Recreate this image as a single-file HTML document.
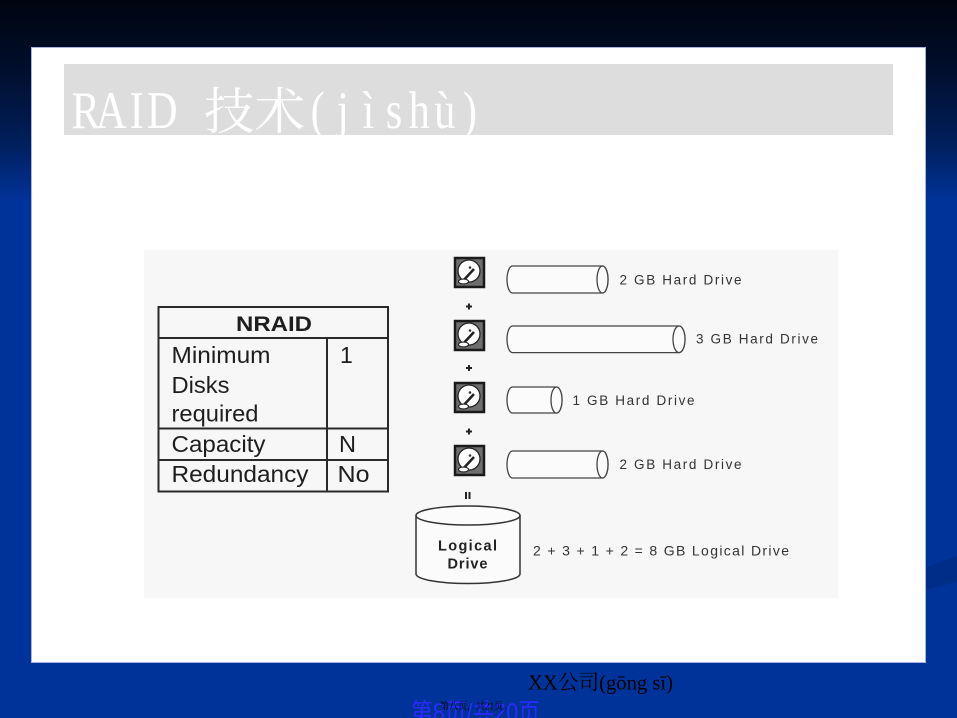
<!DOCTYPE html>
<html>
<head>
<meta charset="utf-8">
<style>
  html, body { margin: 0; padding: 0; width: 957px; height: 718px; overflow: hidden; background: #003399; }
  svg { display: block; }
  .sans { font-family: "Liberation Sans", "Noto Sans CJK SC", sans-serif; }
  .serif { font-family: "Liberation Serif", "Noto Serif CJK SC", serif; }
</style>
</head>
<body>
<svg width="957" height="718" viewBox="0 0 957 718" xmlns="http://www.w3.org/2000/svg">
  <defs>
    <linearGradient id="bg" x1="0" y1="0" x2="0" y2="1">
      <stop offset="0" stop-color="#00040f"/>
      <stop offset="0.10" stop-color="#000f2e"/>
      <stop offset="0.20" stop-color="#001f5c"/>
      <stop offset="0.28" stop-color="#003399"/>
      <stop offset="1" stop-color="#003399"/>
    </linearGradient>
  </defs>

  <!-- background -->
  <rect x="0" y="0" width="957" height="718" fill="url(#bg)"/>
  <polygon points="926,567 957,556 957,582 926,590" fill="#002d88"/>

  <!-- white panel -->
  <rect x="31.5" y="47.5" width="894" height="615" fill="#ffffff" stroke="#a8b4dc" stroke-width="1"/>

  <!-- title bar -->
  <rect x="64" y="64" width="829" height="71" fill="#dddddd"/>
  <g transform="translate(0,128) scale(0.85,1.05)" class="serif" font-size="50" fill="#ffffff" text-anchor="middle">
    <text x="100.9" y="0">R</text>
    <text x="130.9" y="0">A</text>
    <text x="160.9" y="0">I</text>
    <text x="190.9" y="0">D</text>
    <text x="373.8" y="0">(</text>
    <text x="403.5" y="0">j</text>
    <text x="433.5" y="0">ì</text>
    <text x="463.5" y="0">s</text>
    <text x="493.3" y="0">h</text>
    <text x="523.2" y="0">ù</text>
    <text x="552.9" y="0">)</text>
  </g>
  <text x="204" y="129" font-size="50" fill="#ffffff" font-family="'Noto Serif CJK SC', serif" textLength="101" lengthAdjust="spacingAndGlyphs">技术</text>

  <!-- image area -->
  <rect x="144" y="250" width="694" height="348" fill="#f7f7f7"/>

  <!-- NRAID table -->
  <g stroke="#2a2a2a" stroke-width="2" fill="none">
    <rect x="158.5" y="307" width="229.5" height="184.5"/>
    <line x1="158.5" y1="338" x2="388" y2="338"/>
    <line x1="327" y1="338" x2="327" y2="491.5"/>
    <line x1="158.5" y1="428.5" x2="388" y2="428.5"/>
    <line x1="158.5" y1="460" x2="388" y2="460"/>
  </g>
  <g class="sans" fill="#1e1e1e">
    <text x="236" y="331" font-size="21" font-weight="bold" textLength="76" lengthAdjust="spacingAndGlyphs">NRAID</text>
    <text x="171.5" y="363" font-size="23" textLength="99" lengthAdjust="spacingAndGlyphs">Minimum</text>
    <text x="171.5" y="393" font-size="23" textLength="58" lengthAdjust="spacingAndGlyphs">Disks</text>
    <text x="171.5" y="421.5" font-size="23" textLength="87" lengthAdjust="spacingAndGlyphs">required</text>
    <text x="171.5" y="452" font-size="23" textLength="94" lengthAdjust="spacingAndGlyphs">Capacity</text>
    <text x="171.5" y="482" font-size="23" textLength="137" lengthAdjust="spacingAndGlyphs">Redundancy</text>
    <text x="340" y="363" font-size="23">1</text>
    <text x="339" y="452" font-size="23" textLength="17" lengthAdjust="spacingAndGlyphs">N</text>
    <text x="337.5" y="482" font-size="23" textLength="32" lengthAdjust="spacingAndGlyphs">No</text>
  </g>

  <!-- disk icons -->
  <g>
    <g transform="translate(454,257)">
      <rect x="1" y="1" width="29" height="29" fill="#6e6e6e" stroke="#1a1a1a" stroke-width="2.5"/>
      <circle cx="15" cy="14" r="11" fill="#ffffff" stroke="#222" stroke-width="1.3"/>
      <circle cx="16" cy="10.5" r="1.3" fill="#333"/>
      <line x1="8" y1="25" x2="20" y2="12" stroke="#222" stroke-width="2.6"/>
      <ellipse cx="9.5" cy="24.5" rx="5" ry="2.4" fill="#fff" stroke="#222" stroke-width="1.1"/>
    </g>
    <g transform="translate(454,320)">
      <rect x="1" y="1" width="29" height="29" fill="#6e6e6e" stroke="#1a1a1a" stroke-width="2.5"/>
      <circle cx="15" cy="14" r="11" fill="#ffffff" stroke="#222" stroke-width="1.3"/>
      <circle cx="16" cy="10.5" r="1.3" fill="#333"/>
      <line x1="8" y1="25" x2="20" y2="12" stroke="#222" stroke-width="2.6"/>
      <ellipse cx="9.5" cy="24.5" rx="5" ry="2.4" fill="#fff" stroke="#222" stroke-width="1.1"/>
    </g>
    <g transform="translate(454,382)">
      <rect x="1" y="1" width="29" height="29" fill="#6e6e6e" stroke="#1a1a1a" stroke-width="2.5"/>
      <circle cx="15" cy="14" r="11" fill="#ffffff" stroke="#222" stroke-width="1.3"/>
      <circle cx="16" cy="10.5" r="1.3" fill="#333"/>
      <line x1="8" y1="25" x2="20" y2="12" stroke="#222" stroke-width="2.6"/>
      <ellipse cx="9.5" cy="24.5" rx="5" ry="2.4" fill="#fff" stroke="#222" stroke-width="1.1"/>
    </g>
    <g transform="translate(454,445)">
      <rect x="1" y="1" width="29" height="29" fill="#6e6e6e" stroke="#1a1a1a" stroke-width="2.5"/>
      <circle cx="15" cy="14" r="11" fill="#ffffff" stroke="#222" stroke-width="1.3"/>
      <circle cx="16" cy="10.5" r="1.3" fill="#333"/>
      <line x1="8" y1="25" x2="20" y2="12" stroke="#222" stroke-width="2.6"/>
      <ellipse cx="9.5" cy="24.5" rx="5" ry="2.4" fill="#fff" stroke="#222" stroke-width="1.1"/>
    </g>
  </g>

  <!-- plus signs and equals -->
  <g stroke="#222" stroke-width="2">
    <line x1="466" y1="306.5" x2="472" y2="306.5"/><line x1="469" y1="303.5" x2="469" y2="309.5"/>
    <line x1="466" y1="368" x2="472" y2="368"/><line x1="469" y1="365" x2="469" y2="371"/>
    <line x1="466" y1="431.5" x2="472" y2="431.5"/><line x1="469" y1="428.5" x2="469" y2="434.5"/>
    <line x1="466" y1="492" x2="466" y2="499"/><line x1="469.5" y1="492" x2="469.5" y2="499"/>
  </g>

  <!-- horizontal drive cylinders -->
  <g fill="#fbfbfb" stroke="#444" stroke-width="1.3">
    <path d="M512.5,266 H602.5 A5.5,13.5 0 0 1 602.5,293 H512.5 A5.5,13.5 0 0 1 512.5,266 Z"/>
    <ellipse cx="602.5" cy="279.5" rx="5.5" ry="13.5"/>
    <path d="M512.5,326 H679 A6,13.3 0 0 1 679,352.6 H512.5 A5.5,13.3 0 0 1 512.5,326 Z"/>
    <ellipse cx="679" cy="339.3" rx="6" ry="13.3"/>
    <path d="M512.5,387 H556.5 A5.5,13 0 0 1 556.5,413 H512.5 A5.5,13 0 0 1 512.5,387 Z"/>
    <ellipse cx="556.5" cy="400" rx="5.5" ry="13"/>
    <path d="M512.5,451 H602.5 A5.5,13.5 0 0 1 602.5,478 H512.5 A5.5,13.5 0 0 1 512.5,451 Z"/>
    <ellipse cx="602.5" cy="464.5" rx="5.5" ry="13.5"/>
  </g>
  <g class="sans" fill="#333" font-size="13.5">
    <text x="619.5" y="284.5" textLength="122" lengthAdjust="spacing">2 GB Hard Drive</text>
    <text x="696" y="343.5" textLength="122" lengthAdjust="spacing">3 GB Hard Drive</text>
    <text x="572.5" y="405" textLength="122" lengthAdjust="spacing">1 GB Hard Drive</text>
    <text x="619.5" y="469" textLength="122" lengthAdjust="spacing">2 GB Hard Drive</text>
  </g>

  <!-- logical drive cylinder -->
  <g fill="#fbfbfb" stroke="#333" stroke-width="1.5">
    <path d="M416,515.5 V574 A52,9.5 0 0 0 520,574 V515.5"/>
    <ellipse cx="468" cy="515.5" rx="52" ry="9.5"/>
  </g>
  <g class="sans" fill="#222" font-weight="bold" font-size="14.5">
    <text x="438" y="550.5" textLength="59" lengthAdjust="spacing">Logical</text>
    <text x="447.5" y="568.5" textLength="40" lengthAdjust="spacing">Drive</text>
  </g>
  <text class="sans" x="533" y="555.5" font-size="14" fill="#333" textLength="256" lengthAdjust="spacing">2 + 3 + 1 + 2 = 8 GB Logical Drive</text>

  <!-- footer -->
  <text class="serif" x="528" y="689.5" font-size="21" fill="#000" textLength="145" lengthAdjust="spacingAndGlyphs">XX公司(gōng sī)</text>
  <text x="411" y="721" font-size="25" fill="#2a2aff" font-family="'Liberation Sans', 'Noto Sans CJK SC', sans-serif" textLength="129" lengthAdjust="spacingAndGlyphs">第8页/共20页</text>
  <text x="440" y="709.5" font-size="10" fill="#000" font-family="'Liberation Serif', 'Noto Serif CJK SC', serif" textLength="72" lengthAdjust="spacingAndGlyphs">第八页，共21页。</text>
</svg>
</body>
</html>
